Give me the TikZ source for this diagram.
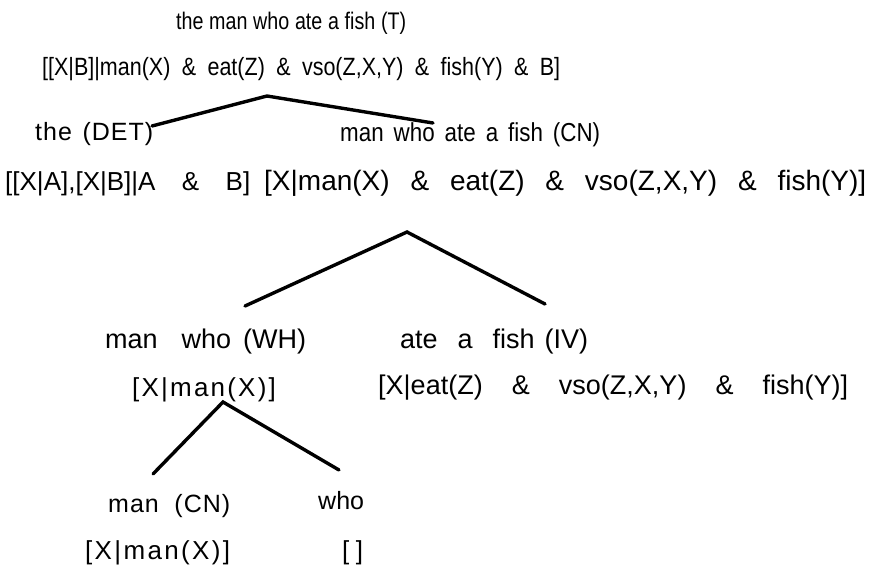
\documentclass[tikz,border=0pt]{standalone}
\usepackage{fontspec}
\setmainfont{Liberation Sans}
\begin{document}
\begin{tikzpicture}[x=1pt,y=-1pt,
  txt/.style={anchor=west,inner sep=0pt,yshift=-1.5pt},
  branch/.style={line width=3.4pt,line cap=round,line join=miter}]
\useasboundingbox (0,0) rectangle (869,567);
% label: name, left edge, width, vertical centre, font size, font features, text
\newcommand\lbl[7]{\node[txt,font=\fontsize{#5}{#5}\selectfont\addfontfeatures{#6}]
  (#1) at (#2,#4) {\makebox[#3pt][s]{\vphantom{[]}#7}};}

% root
\lbl{rootcat}{176}{230}{22}{24}{FakeStretch=0.82}{the man who ate a fish (T)}
\lbl{rootsem}{42}{518}{68}{25}{FakeStretch=0.86}{[[X|B]|man(X) \& eat(Z) \& vso(Z,X,Y) \& fish(Y) \& B]}

% first split
\lbl{detcat}{35}{118}{133}{25}{LetterSpace=4}{the (DET)}
\lbl{cncat}{340}{260}{133}{26}{FakeStretch=0.86}{man who ate a fish (CN)}
\lbl{detsem}{5}{245}{182}{26}{LetterSpace=0}{[[X|A],[X|B]|A \& B]}
\lbl{cnsem}{264}{602}{182}{28}{LetterSpace=0}{[X|man(X) \& eat(Z) \& vso(Z,X,Y) \& fish(Y)]}

% second split
\lbl{whcat}{105}{201}{340}{27}{LetterSpace=0}{man\ \ who (WH)}
\lbl{ivcat}{400}{188}{340}{27}{LetterSpace=0}{ate\ \ a\ \ fish (IV)}
\lbl{whsem}{132}{146}{388}{26}{LetterSpace=8.5}{[X|man(X)]}
\lbl{ivsem}{378}{470}{386}{27}{LetterSpace=0}{[X|eat(Z) \& vso(Z,X,Y) \& fish(Y)]}

% third split
\lbl{mancat}{108}{122}{505}{25}{LetterSpace=4}{man\ \ (CN)}
\lbl{whocat}{318}{45}{502}{25}{LetterSpace=0}{who}
\lbl{mansem}{85}{148}{551}{26}{LetterSpace=9}{[X|man(X)]}
\lbl{whosem}{342}{21}{551}{26}{LetterSpace=0}{[ ]}

% branch points
\coordinate (a1) at (267,96);  \coordinate (l1) at (152,126); \coordinate (r1) at (433,123);
\coordinate (a2) at (407,232); \coordinate (l2) at (245,306); \coordinate (r2) at (545,304);
\coordinate (a3) at (223,402); \coordinate (l3) at (153,474); \coordinate (r3) at (339,470);

\draw[branch] (l1) -- (a1) -- (r1);
\draw[branch] (l2) -- (a2) -- (r2);
\draw[branch] (l3) -- (a3) -- (r3);
\end{tikzpicture}
\end{document}
